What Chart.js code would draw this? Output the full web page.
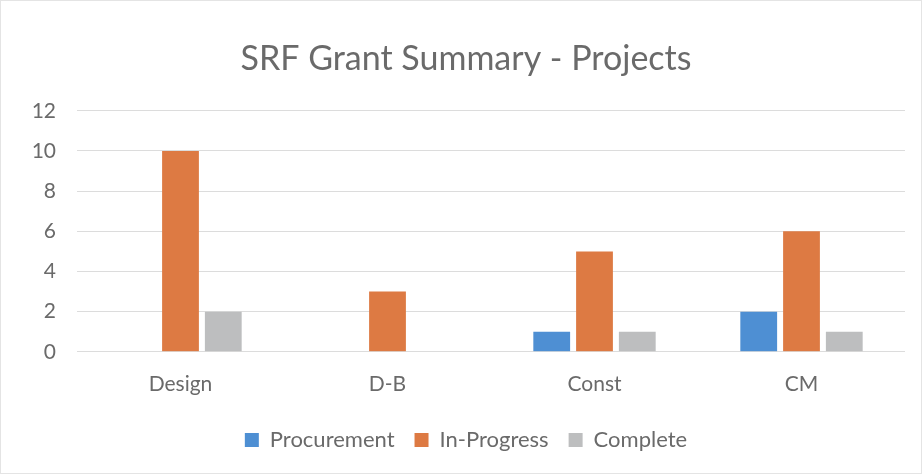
<!DOCTYPE html>
<html>
<head>
<meta charset="utf-8">
<script src="https://cdn.jsdelivr.net/npm/chart.js@4/dist/chart.umd.min.js"></script>
<style>
  html, body { margin: 0; padding: 0; background: #fff; }
  #wrap { position: relative; width: 920px; height: 472px; border: 1px solid #e4e4e4; }
</style>
</head>
<body>
<div id="wrap"><canvas id="chart"></canvas></div>
<script>
var categories = ['Design', 'D-B', 'Const', 'CM'];
var procurement = [0, 0, 1, 2];
var inProgress = [10, 3, 5, 6];
var complete = [2, 0, 1, 1];

var font = "Lato, 'Open Sans', sans-serif";
var textColor = '#6a6a6a';

new Chart(document.getElementById('chart'), {
  type: 'bar',
  data: {
    labels: categories,
    datasets: [
      { label: 'Procurement', data: procurement, backgroundColor: '#4e8fd3' },
      { label: 'In-Progress', data: inProgress, backgroundColor: '#dd7a43' },
      { label: 'Complete', data: complete, backgroundColor: '#bdbebf' }
    ]
  },
  options: {
    responsive: true,
    maintainAspectRatio: false,
    animation: false,
    categoryPercentage: 0.62,
    barPercentage: 0.86,
    layout: { padding: { left: 26, right: 16, top: 30, bottom: 12 } },
    plugins: {
      title: {
        display: true,
        text: 'SRF Grant Summary - Projects',
        color: textColor,
        font: { family: font, size: 34, weight: 'normal' },
        padding: { top: 8, bottom: 31 }
      },
      legend: {
        position: 'bottom',
        labels: {
          color: textColor,
          font: { family: font, size: 22 },
          boxWidth: 14,
          boxHeight: 14,
          padding: 20
        }
      },
      tooltip: { enabled: false }
    },
    scales: {
      x: {
        grid: { display: false },
        border: { display: false },
        ticks: { color: textColor, font: { family: font, size: 21 }, padding: 12 }
      },
      y: {
        min: 0,
        max: 12,
        afterFit: function (axis) { axis.width = 50; },
        ticks: { stepSize: 2, color: textColor, font: { family: font, size: 21 }, padding: 21 },
        grid: { color: '#dcdcdc', drawTicks: false },
        border: { display: false }
      }
    }
  }
});
</script>
</body>
</html>
